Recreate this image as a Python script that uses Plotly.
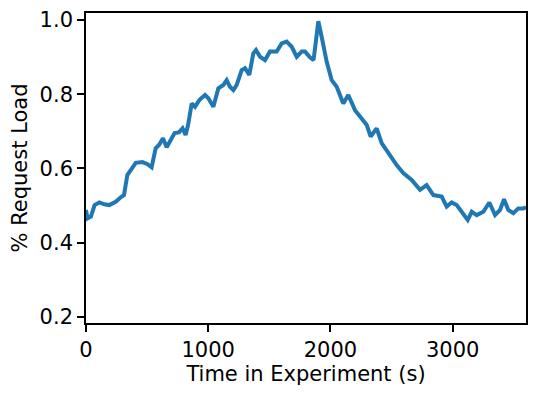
import plotly.graph_objects as go

time_s = [0, 12, 40, 70, 110, 150, 190, 243, 284, 311, 338, 366, 407, 461, 500, 537,
          570, 597, 630, 660, 698, 725, 760, 790, 815, 835, 865, 892, 927, 974, 1001,
          1042, 1083, 1124, 1151, 1178, 1206, 1233, 1274, 1301, 1336, 1369, 1391, 1424,
          1465, 1505, 1560, 1601, 1642, 1683, 1724, 1765, 1792, 1830, 1862, 1901, 1928,
          1969, 2010, 2051, 2105, 2146, 2201, 2256, 2297, 2329, 2378, 2419, 2474, 2542,
          2596, 2665, 2733, 2787, 2842, 2910, 2951, 2992, 3033, 3088, 3123, 3156, 3197,
          3251, 3300, 3347, 3388, 3420, 3455, 3496, 3537, 3578, 3600]
load = [0.488, 0.465, 0.47, 0.501, 0.508, 0.503, 0.501, 0.51, 0.522, 0.528, 0.582,
        0.596, 0.615, 0.617, 0.612, 0.603, 0.654, 0.663, 0.681, 0.657, 0.677, 0.695,
        0.697, 0.708, 0.69, 0.717, 0.775, 0.766, 0.784, 0.798, 0.789, 0.766, 0.816,
        0.825, 0.838, 0.82, 0.811, 0.825, 0.865, 0.87, 0.852, 0.91, 0.919, 0.901, 0.892,
        0.915, 0.915, 0.937, 0.942, 0.928, 0.901, 0.915, 0.915, 0.9, 0.892, 0.997,
        0.955, 0.888, 0.838, 0.82, 0.775, 0.798, 0.757, 0.735, 0.717, 0.686, 0.708,
        0.668, 0.641, 0.609, 0.587, 0.569, 0.542, 0.555, 0.528, 0.524, 0.497, 0.508,
        0.501, 0.479, 0.461, 0.483, 0.474, 0.483, 0.508, 0.474, 0.488, 0.517, 0.488,
        0.479, 0.492, 0.492, 0.495]

x_ticks = [0, 1000, 2000, 3000]
y_ticks = [0.2, 0.4, 0.6, 0.8, 1.0]
y_tick_text = ["0.2", "0.4", "0.6", "0.8", "1.0"]

fig = go.Figure(go.Scatter(x=time_s, y=load, mode="lines",
                           line=dict(color="#1f77b4", width=4)))

FONT = dict(family="DejaVu Sans", size=21, color="black")

axis_common = dict(showline=True, linecolor="black", linewidth=1.6, mirror=True,
                   ticks="outside", ticklen=7, tickwidth=1.6, tickcolor="black",
                   showgrid=False, zeroline=False, tickfont=FONT)

fig.update_layout(
    width=539, height=397,
    margin=dict(l=86, r=13, t=13, b=74, autoexpand=False),
    paper_bgcolor="white", plot_bgcolor="white",
    showlegend=False,
    font=FONT,
    xaxis=dict(range=[0, 3600], tickvals=x_ticks, automargin=False,
               title=dict(text="Time in Experiment (s)", standoff=4, font=FONT),
               **axis_common),
    yaxis=dict(range=[0.183, 1.019], tickvals=y_ticks, ticktext=y_tick_text,
               automargin=False,
               title=dict(text="% Request Load", standoff=6, font=FONT),
               **axis_common),
)

fig.write_html("out.html", config={"displayModeBar": False},
               post_script="document.body.style.margin='0';document.body.style.padding='0';")
